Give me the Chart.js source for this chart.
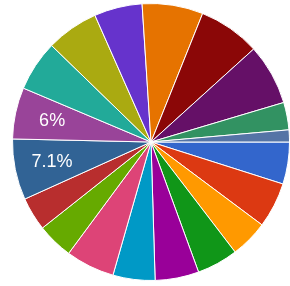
<!DOCTYPE html>
<html>
<head>
<meta charset="utf-8">
<script src="https://cdn.jsdelivr.net/npm/chart.js@4/dist/chart.umd.min.js"></script>
<style>
html,body{margin:0;padding:0;background:#fff;}
#wrap{width:290px;height:286px;position:relative;}
</style>
</head>
<body>
<div id="wrap"><canvas id="c" width="290" height="286"></canvas></div>
<script>
const categories = ["A","B","C","D","E","F","G","H","I","J","K","L","M","N","O","P","Q","R","S"];
const values = [4.9, 5.3, 4.4, 4.8, 5.1, 4.9, 5.7, 4.2, 3.9, 7.1, 6.0, 5.9, 6.1, 5.6, 7.1, 7.2, 7.1, 3.2, 1.4];
const colors = ["#3366cc","#dc3912","#ff9900","#109618","#990099","#0099c6","#dd4477","#66aa00","#b82e2e","#316395","#994499","#22aa99","#aaaa11","#6633cc","#e67300","#8b0707","#651067","#329262","#5574a6"];
const labelledSlices = [9, 10];

const sliceLabels = {
  id: 'sliceLabels',
  afterDatasetsDraw(chart) {
    const ctx = chart.ctx;
    const meta = chart.getDatasetMeta(0);
    ctx.save();
    ctx.fillStyle = '#ffffff';
    ctx.font = '18px "Liberation Sans", Arial, sans-serif';
    ctx.textAlign = 'center';
    ctx.textBaseline = 'middle';
    labelledSlices.forEach(i => {
      const arc = meta.data[i];
      const mid = (arc.startAngle + arc.endAngle) / 2;
      const r = arc.outerRadius * 0.73;
      const x = arc.x + Math.cos(mid) * r;
      const y = arc.y + Math.sin(mid) * r;
      const txt = Number(values[i].toFixed(1)) + '%';
      ctx.fillText(txt, x, y);
    });
    ctx.restore();
  }
};

new Chart(document.getElementById('c'), {
  type: 'pie',
  data: {
    labels: categories,
    datasets: [{
      data: values,
      backgroundColor: colors,
      borderColor: '#ffffff',
      borderWidth: 1
    }]
  },
  options: {
    responsive: false,
    animation: false,
    rotation: 90,
    layout: { padding: { left: 12, right: 0, top: 3, bottom: 5 } },
    plugins: { legend: { display: false }, tooltip: { enabled: false } }
  },
  plugins: [sliceLabels]
});
</script>
</body>
</html>
